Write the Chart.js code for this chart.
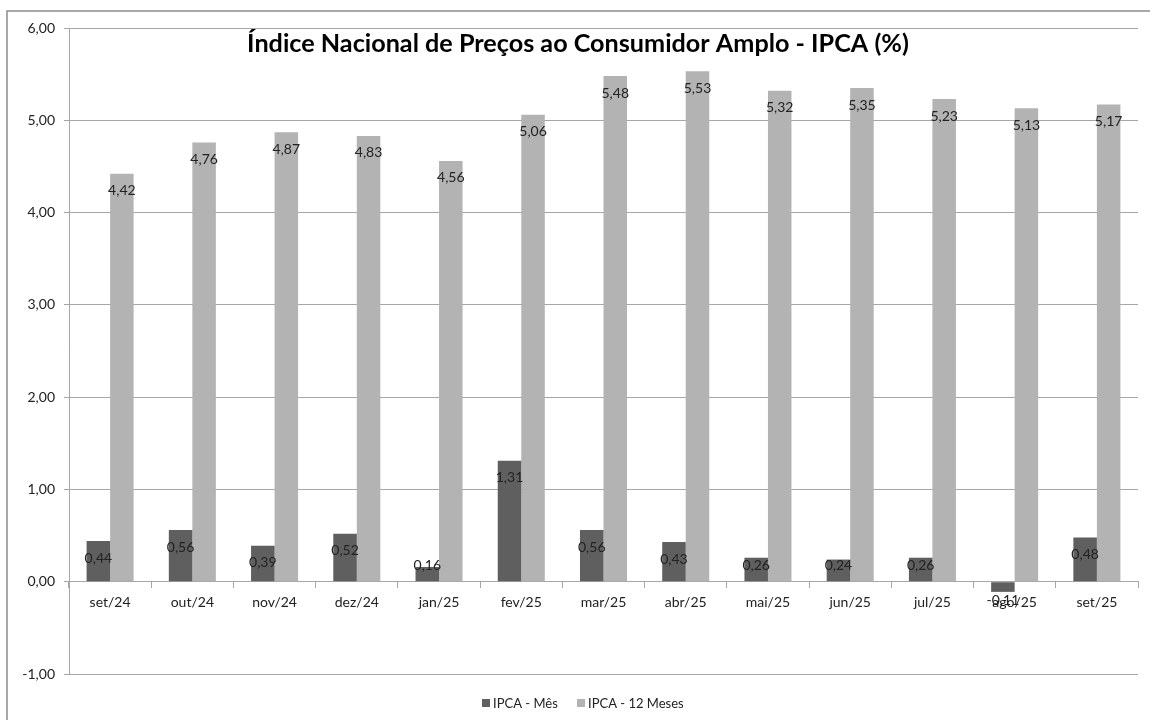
<!DOCTYPE html>
<html lang="pt-BR">
<head>
<meta charset="utf-8">
<title>IPCA</title>
<script src="https://cdn.jsdelivr.net/npm/chart.js@4.4.1/dist/chart.umd.min.js"></script>
<style>
  html, body { margin: 0; padding: 0; background: #fff; }
  #wrap { width: 1150px; height: 720px; position: relative; }
</style>
</head>
<body>
<div id="wrap"><canvas id="ipca" width="1150" height="720"></canvas></div>
<script>
/* IPCA mensal e acumulado em 12 meses */

const MONTHS = ['set/24','out/24','nov/24','dez/24','jan/25','fev/25','mar/25','abr/25','mai/25','jun/25','jul/25','ago/25','set/25'];
const IPCA_MES = [0.44, 0.56, 0.39, 0.52, 0.16, 1.31, 0.56, 0.43, 0.26, 0.24, 0.26, -0.11, 0.48];
const IPCA_12M = [4.42, 4.76, 4.87, 4.83, 4.56, 5.06, 5.48, 5.53, 5.32, 5.35, 5.23, 5.13, 5.17];
const Y_MIN = -1, Y_MAX = 6, Y_STEP = 1;

const TITLE = 'Índice Nacional de Preços ao Consumidor Amplo - IPCA (%)';
const SERIES = ['IPCA - Mês', 'IPCA - 12 Meses'];
const COLORS = ['#5f5f5f', '#b3b3b3'];
const GRID = '#a6a6a6';
const FONT = "'Lato', 'Open Sans', sans-serif";

const br = v => v.toFixed(2).replace('.', ',');

// moldura + titulo + legenda + rotulos de dados
const decor = {
  id: 'decor',
  beforeDraw(chart) {
    const c = chart.ctx;
    c.save();
    c.fillStyle = '#fff';
    c.fillRect(0, 0, chart.width, chart.height);
    c.strokeStyle = '#8c8c8c';
    c.lineWidth = 1.5;
    c.strokeRect(7, 11, chart.width + 20, chart.height + 20);
    c.restore();
  },
  afterDatasetsDraw(chart) {
    const c = chart.ctx;
    const zeroY = chart.scales.y.getPixelForValue(0);
    c.save();
    c.font = '14px ' + FONT;
    c.fillStyle = '#222';
    c.textAlign = 'center';
    c.textBaseline = 'middle';
    chart.data.datasets.forEach((ds, i) => {
      chart.getDatasetMeta(i).data.forEach((el, j) => {
        const v = ds.data[j];
        let ly = v >= 0 ? Math.min(el.y + 17, zeroY - 16) : el.y + 9;
        c.fillText(br(v), el.x, ly);
      });
    });
    c.restore();
  },
  afterDraw(chart) {
    const c = chart.ctx;
    c.save();
    // titulo, ajustado a largura do original
    let size = 24;
    c.font = 'bold ' + size + 'px ' + FONT;
    const w = c.measureText(TITLE).width;
    size = size * 661 / w;
    c.font = 'bold ' + size.toFixed(1) + 'px ' + FONT;
    c.fillStyle = '#000';
    c.textAlign = 'center';
    c.textBaseline = 'middle';
    c.fillText(TITLE, 578, 44);

    // legenda
    c.font = '13px ' + FONT;
    c.textAlign = 'left';
    const items = [{ x: 482 }, { x: 577 }];
    items.forEach((it, i) => {
      c.fillStyle = COLORS[i];
      c.fillRect(it.x, 699, 8, 8);
      c.fillStyle = '#222';
      c.fillText(SERIES[i], it.x + 11, 703.5);
    });
    c.restore();
  }
};

new Chart(document.getElementById('ipca'), {
  type: 'bar',
  data: {
    labels: MONTHS,
    datasets: [
      { label: SERIES[0], data: IPCA_MES, backgroundColor: COLORS[0] },
      { label: SERIES[1], data: IPCA_12M, backgroundColor: COLORS[1] }
    ]
  },
  options: {
    responsive: false,
    animation: false,
    layout: { padding: { top: 28, right: 12, bottom: 46, left: 0 } },
    datasets: { bar: { categoryPercentage: 0.572, barPercentage: 1.0 } },
    plugins: { legend: { display: false }, title: { display: false }, tooltip: { enabled: false } },
    scales: {
      x: {
        position: { y: 0 },
        grid: { display: true, drawOnChartArea: false, offset: true, tickLength: 6, color: GRID },
        border: { display: true, color: GRID },
        ticks: { color: '#222', font: { family: FONT, size: 14 }, padding: 6, maxRotation: 0, autoSkip: false }
      },
      y: {
        min: Y_MIN, max: Y_MAX,
        afterFit(scale) { scale.width = 69; },
        grid: { color: GRID, tickLength: 5 },
        border: { display: true, color: GRID },
        ticks: { stepSize: Y_STEP, color: '#222', font: { family: FONT, size: 14 }, padding: 9, callback: v => br(v) }
      }
    }
  },
  plugins: [decor]
});
</script>
</body>
</html>
